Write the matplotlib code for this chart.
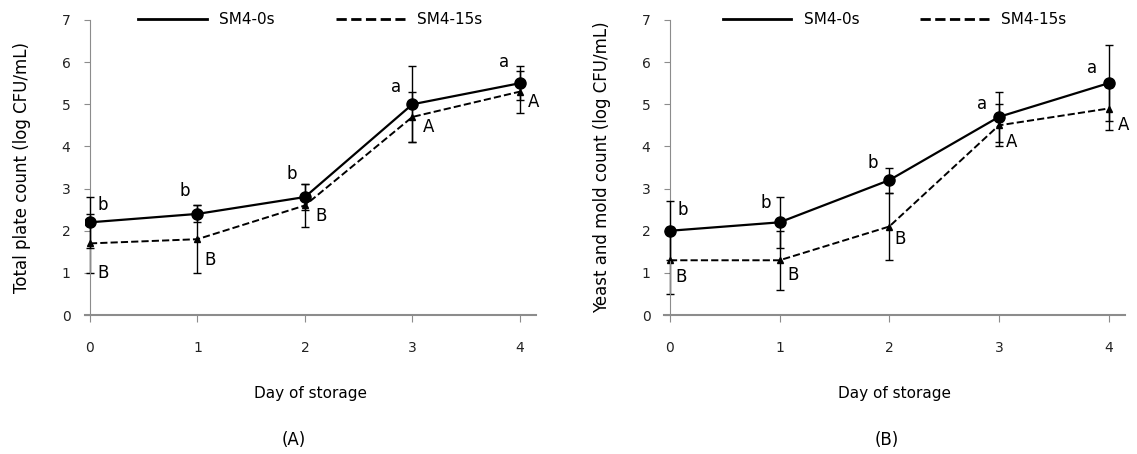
import matplotlib.pyplot as plt
from matplotlib.lines import Line2D

# data
days = [0, 1, 2, 3, 4]

# (A) total plate count
tpc_0s = [2.2, 2.4, 2.8, 5.0, 5.5]
tpc_0s_err = [0.6, 0.2, 0.3, 0.9, 0.4]
tpc_15s = [1.7, 1.8, 2.6, 4.7, 5.3]
tpc_15s_err = [0.7, 0.8, 0.5, 0.6, 0.5]
tpc_0s_letters = ['b', 'b', 'b', 'a', 'a']
tpc_15s_letters = ['B', 'B', 'B', 'A', 'A']

# (B) yeast and mold count
ym_0s = [2.0, 2.2, 3.2, 4.7, 5.5]
ym_0s_err = [0.7, 0.6, 0.3, 0.6, 0.9]
ym_15s = [1.3, 1.3, 2.1, 4.5, 4.9]
ym_15s_err = [0.8, 0.7, 0.8, 0.5, 0.5]
ym_0s_letters = ['b', 'b', 'b', 'a', 'a']
ym_15s_letters = ['B', 'B', 'B', 'A', 'A']

# letter offsets (dx, dy) in data units
tpc_0s_off = [(0.12, 0.4), (-0.12, 0.55), (-0.12, 0.55), (-0.15, 0.4), (-0.15, 0.5)]
tpc_15s_off = [(0.12, -0.7), (0.12, -0.5), (0.15, -0.25), (0.15, -0.25), (0.13, -0.25)]
ym_0s_off = [(0.12, 0.5), (-0.13, 0.45), (-0.15, 0.4), (-0.15, 0.3), (-0.15, 0.35)]
ym_15s_off = [(0.1, -0.4), (0.12, -0.35), (0.1, -0.3), (0.12, -0.4), (0.14, -0.4)]

plt.rcParams['font.family'] = ['DejaVu Sans']
GREY = '#8c8c8c'

fig = plt.figure(figsize=(11.37, 4.54), dpi=100)
axA = fig.add_axes([0.0744, 0.306, 0.397, 0.65])
axB = fig.add_axes([0.5844, 0.306, 0.405, 0.65])


def draw(ax, y0, e0, y1, e1, l0, l1, off0, off1, ylabel):
    ax.errorbar(days, y0, yerr=e0, color='black', lw=1.6, marker='o', ms=8,
                capsize=3, elinewidth=1, capthick=1, zorder=3)
    ax.errorbar(days, y1, yerr=e1, color='black', lw=1.4, ls='--', marker='^', ms=5,
                capsize=3, elinewidth=1, capthick=1, zorder=2)
    for i in range(len(days)):
        ax.text(days[i] + off0[i][0], y0[i] + off0[i][1], l0[i], fontsize=12,
                ha='center', va='center')
        ax.text(days[i] + off1[i][0], y1[i] + off1[i][1], l1[i], fontsize=12,
                ha='center', va='center')
    ax.set_xlim(-0.05, 4.15)
    ax.set_ylim(0, 7)
    ax.set_xticks(days)
    ax.set_yticks(range(8))
    ax.spines['top'].set_visible(False)
    ax.spines['right'].set_visible(False)
    ax.spines['left'].set_position(('data', 0))
    ax.spines['left'].set_color(GREY)
    ax.spines['bottom'].set_color(GREY)
    ax.spines['bottom'].set_linewidth(1.5)
    ax.tick_params(axis='both', colors=GREY, labelcolor='#222222', labelsize=10)
    ax.tick_params(axis='x', length=5, pad=14)
    ax.tick_params(axis='y', length=4, pad=10)
    ax.set_xlabel('Day of storage', fontsize=11, labelpad=22)
    ax.set_ylabel(ylabel, fontsize=12, labelpad=22)
    handles = [Line2D([], [], color='black', lw=2),
               Line2D([], [], color='black', lw=2, ls='--')]
    ax.legend(handles, ['SM4-0s', 'SM4-15s'], loc='center', bbox_to_anchor=(0.5, 1.0),
              ncol=2, frameon=False, fontsize=11, handlelength=4.5, columnspacing=4)


draw(axA, tpc_0s, tpc_0s_err, tpc_15s, tpc_15s_err, tpc_0s_letters, tpc_15s_letters,
     tpc_0s_off, tpc_15s_off, 'Total plate count (log CFU/mL)')
draw(axB, ym_0s, ym_0s_err, ym_15s, ym_15s_err, ym_0s_letters, ym_15s_letters,
     ym_0s_off, ym_15s_off, 'Yeast and mold count (log CFU/mL)')

fig.text(0.258, 0.02, '(A)', fontsize=12, ha='center')
fig.text(0.78, 0.02, '(B)', fontsize=12, ha='center')

fig.savefig('out.png', dpi=100)
